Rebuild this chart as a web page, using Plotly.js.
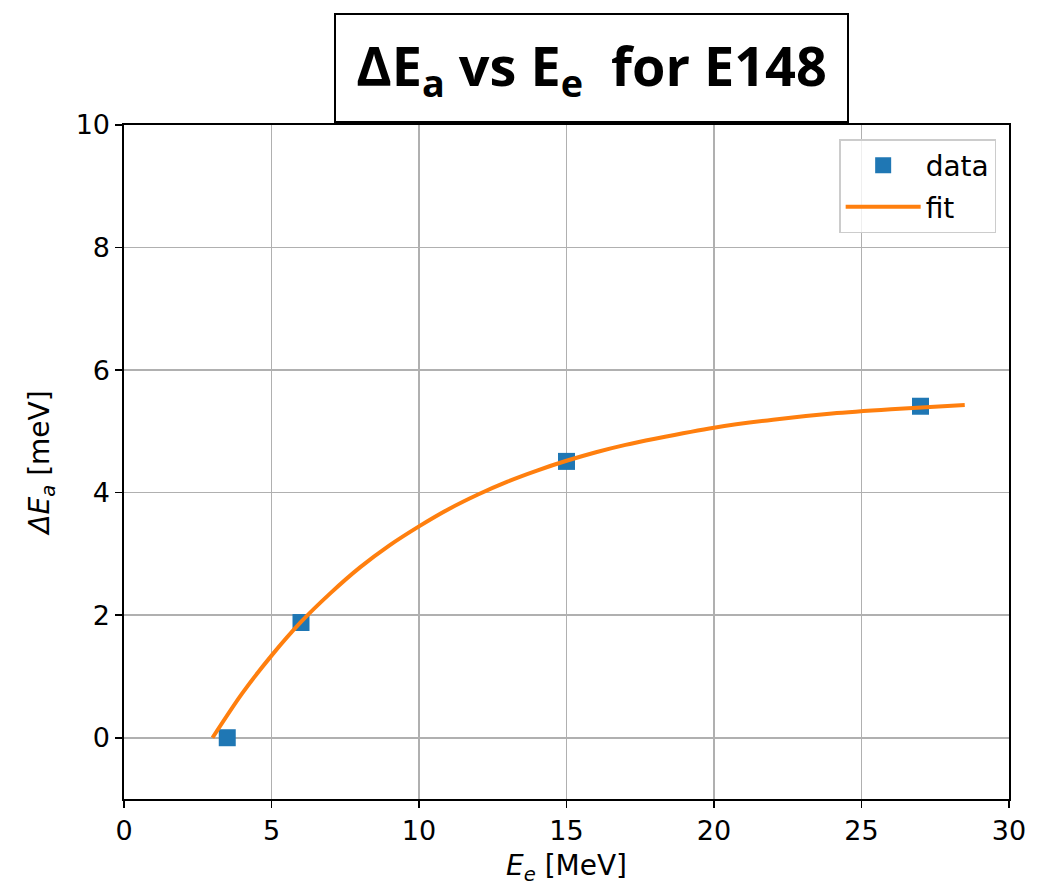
<!DOCTYPE html>
<html>
<head>
<meta charset="utf-8">
<script src="https://cdn.plot.ly/plotly-3.0.1.min.js"></script>
<style>
  html, body { margin: 0; padding: 0; background: #fff; }
  #chart { width: 1047px; height: 886px; }
</style>
</head>
<body>
<div id="chart"></div>
<script>
// Measured data points
const dataEe = [3.5, 6, 15, 27];
const dataDEa = [0.0, 1.88, 4.51, 5.41];

// Fit curve, points
const fitEe = [3.0, 4.0, 5.0, 6.0, 7.0, 8.0, 9.0, 10.0, 11.0, 12.0, 13.0, 14.0, 15.0, 16.0, 17.0, 18.0, 20.0, 22.0, 24.0, 26.0, 28.5];
const fitDEa = [0.0, 0.72, 1.34, 1.89, 2.36, 2.78, 3.14, 3.45, 3.73, 3.97, 4.18, 4.36, 4.52, 4.66, 4.78, 4.88, 5.06, 5.19, 5.29, 5.36, 5.43];

const seriesNames = ["data", "fit"];
const titleText = "ΔE<sub>a</sub> vs E<sub>e</sub>  for E148";
const xTitle = "<i>E<sub>e</sub></i> [MeV]";
const yTitle = "<i>ΔE<sub>a</sub></i> [meV]";

const font = "DejaVu Sans, sans-serif";

const traces = [
  {
    x: dataEe, y: dataDEa, name: seriesNames[0], type: "scatter", mode: "markers",
    legendgroup: "a",
    marker: { symbol: "square", size: 17, color: "#1f77b4" }
  },
  {
    x: fitEe, y: fitDEa, name: seriesNames[1], type: "scatter", mode: "lines",
    legendgroup: "b",
    line: { color: "#ff7f0e", width: 4, shape: "spline", smoothing: 0.8 }
  }
];

const axisCommon = {
  showline: true, mirror: true, linecolor: "#000", linewidth: 1.6,
  ticks: "outside", ticklen: 7, tickwidth: 1.6, tickcolor: "#000",
  showgrid: true, gridcolor: "#b0b0b0", gridwidth: 1.6,
  zeroline: false,
  tickfont: { family: font, size: 27, color: "#000" }
};

const layout = {
  width: 1047, height: 886,
  margin: { l: 124, r: 38, t: 125, b: 87 },
  paper_bgcolor: "#fff", plot_bgcolor: "#fff",
  showlegend: true,
  legend: {
    x: 0.9855, xanchor: "right", y: 0.979, yanchor: "top",
    bgcolor: "rgba(255,255,255,0.8)", bordercolor: "#cccccc", borderwidth: 1.5,
    font: { family: font, size: 28, color: "#000" },
    itemwidth: 75, traceorder: "grouped", tracegroupgap: 2
  },
  xaxis: Object.assign({}, axisCommon, {
    range: [0, 30], tickvals: [0, 5, 10, 15, 20, 25, 30],
    title: { text: xTitle, font: { family: font, size: 28, color: "#000" }, standoff: 12 }
  }),
  yaxis: Object.assign({}, axisCommon, {
    range: [-1, 10], tickvals: [0, 2, 4, 6, 8, 10],
    title: { text: yTitle, font: { family: font, size: 28, color: "#000" }, standoff: 18 }
  }),
  annotations: [{
    xref: "paper", yref: "paper",
    x: 0.528, y: 1.0846, xanchor: "center", yanchor: "middle",
    text: "<b>" + titleText + "</b>",
    showarrow: false,
    font: { family: "Open Sans, sans-serif", size: 54, color: "#000" },
    bordercolor: "#000", borderwidth: 2, borderpad: 0,
    width: 511, height: 106, bgcolor: "#fff"
  }]
};

Plotly.newPlot("chart", traces, layout, { displayModeBar: false, staticPlot: true });
</script>
</body>
</html>
